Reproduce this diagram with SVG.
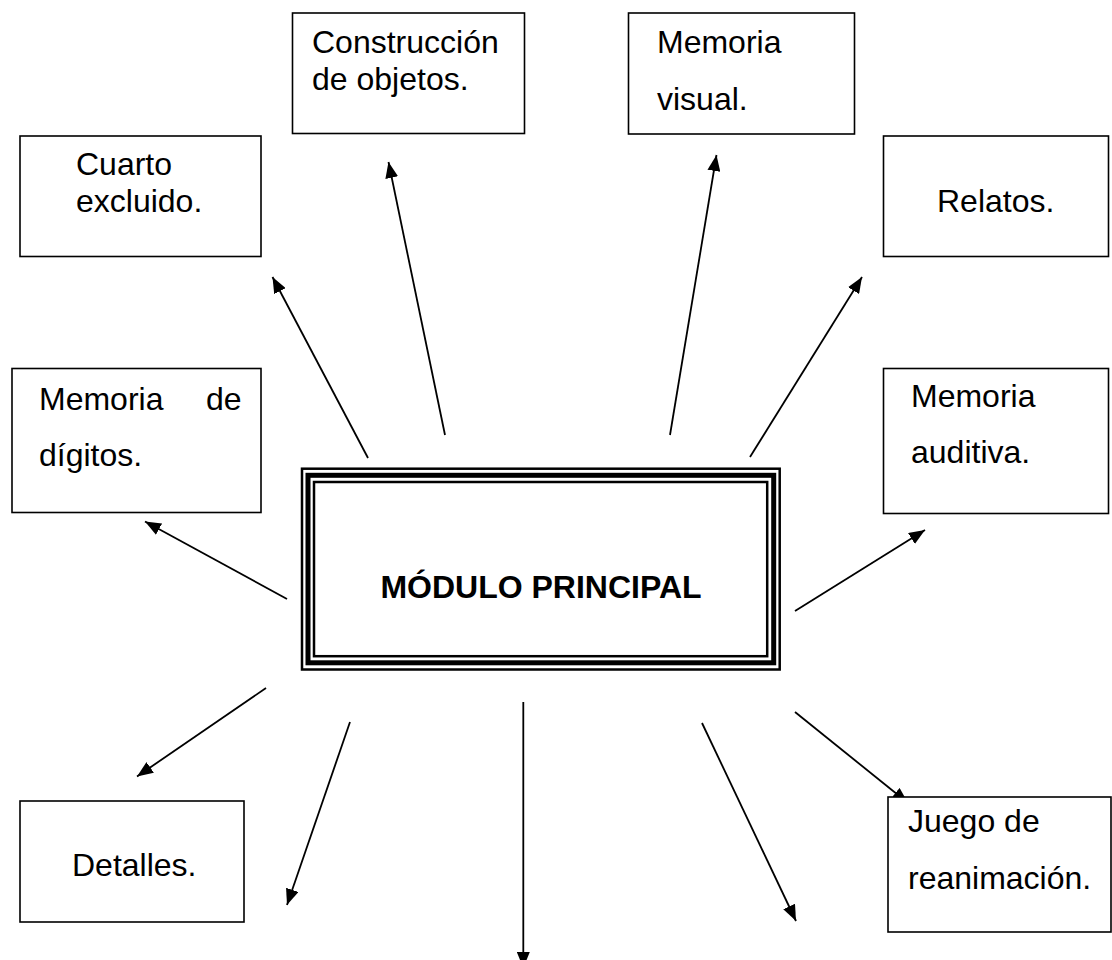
<svg xmlns="http://www.w3.org/2000/svg" width="1112" height="960" viewBox="0 0 1112 960">
<style>
.box{fill:#fff;stroke:#000;stroke-width:1.6}
.t{font-family:"Liberation Sans",Arial,sans-serif;font-size:32px;fill:#000}
.tb{font-family:"Liberation Sans",Arial,sans-serif;font-size:32px;font-weight:bold;fill:#000}
.c{stroke:#000;stroke-width:1.8;fill:none;marker-end:url(#ah)}
</style>
<defs>
<marker id="ah" markerUnits="userSpaceOnUse" viewBox="0 0 16 13" refX="16" refY="6.5" markerWidth="16" markerHeight="13" orient="auto">
<path d="M0,0 L16,6.5 L0,13 z" fill="#000"/>
</marker>
</defs>
<rect width="1112" height="960" fill="#fff"/>
<g id="connectors">
<line class="c" x1="368" y1="458" x2="272.5" y2="277"/>
<line class="c" x1="445" y1="435" x2="388.5" y2="162"/>
<line class="c" x1="670" y1="435" x2="716.5" y2="155"/>
<line class="c" x1="750" y1="457" x2="862" y2="277"/>
<line class="c" x1="287" y1="599" x2="145" y2="521.5"/>
<line class="c" x1="795" y1="611" x2="925" y2="530"/>
<line class="c" x1="266" y1="688" x2="137" y2="776.5"/>
<line class="c" x1="350" y1="722" x2="287" y2="905"/>
<line class="c" x1="523.3" y1="702" x2="523.3" y2="968"/>
<line class="c" x1="702" y1="723" x2="796" y2="921"/>
<line class="c" x1="795" y1="712" x2="908" y2="803"/>
</g>
<g id="main">
<rect x="302" y="468.7" width="477.7" height="200.8" fill="#fff" stroke="#000" stroke-width="2.5"/>
<rect x="308" y="475.3" width="465.7" height="187.5" fill="none" stroke="#000" stroke-width="5"/>
<rect x="314" y="482" width="453.2" height="174.2" fill="none" stroke="#000" stroke-width="2.5"/>
<text class="tb" x="541" y="598" text-anchor="middle">MÓDULO PRINCIPAL</text>
</g>
<g id="construccion">
<rect class="box" x="292.5" y="13" width="232" height="120.5"/>
<text class="t" x="312" y="53">Construcción</text>
<text class="t" x="312" y="90">de objetos.</text>
</g>
<g id="memoria-visual">
<rect class="box" x="628.5" y="13" width="226" height="121"/>
<text class="t" x="657" y="53">Memoria</text>
<text class="t" x="657" y="110">visual.</text>
</g>
<g id="cuarto">
<rect class="box" x="20" y="136" width="241" height="120.5"/>
<text class="t" x="76" y="175">Cuarto</text>
<text class="t" x="76" y="212">excluido.</text>
</g>
<g id="relatos">
<rect class="box" x="883.5" y="136" width="225" height="120.5"/>
<text class="t" x="937" y="212">Relatos.</text>
</g>
<g id="memoria-digitos">
<rect class="box" x="12" y="368.5" width="249" height="144"/>
<text class="t" x="39" y="410">Memoria</text>
<text class="t" x="206" y="410">de</text>
<text class="t" x="39" y="466">dígitos.</text>
</g>
<g id="memoria-auditiva">
<rect class="box" x="883.5" y="368.5" width="225" height="145"/>
<text class="t" x="911" y="407">Memoria</text>
<text class="t" x="911" y="463">auditiva.</text>
</g>
<g id="detalles">
<rect class="box" x="20" y="801" width="224" height="121"/>
<text class="t" x="72" y="876">Detalles.</text>
</g>
<g id="juego">
<rect class="box" x="888" y="797" width="223" height="135"/>
<text class="t" x="908" y="832">Juego de</text>
<text class="t" x="908" y="889">reanimación.</text>
</g>
</svg>
